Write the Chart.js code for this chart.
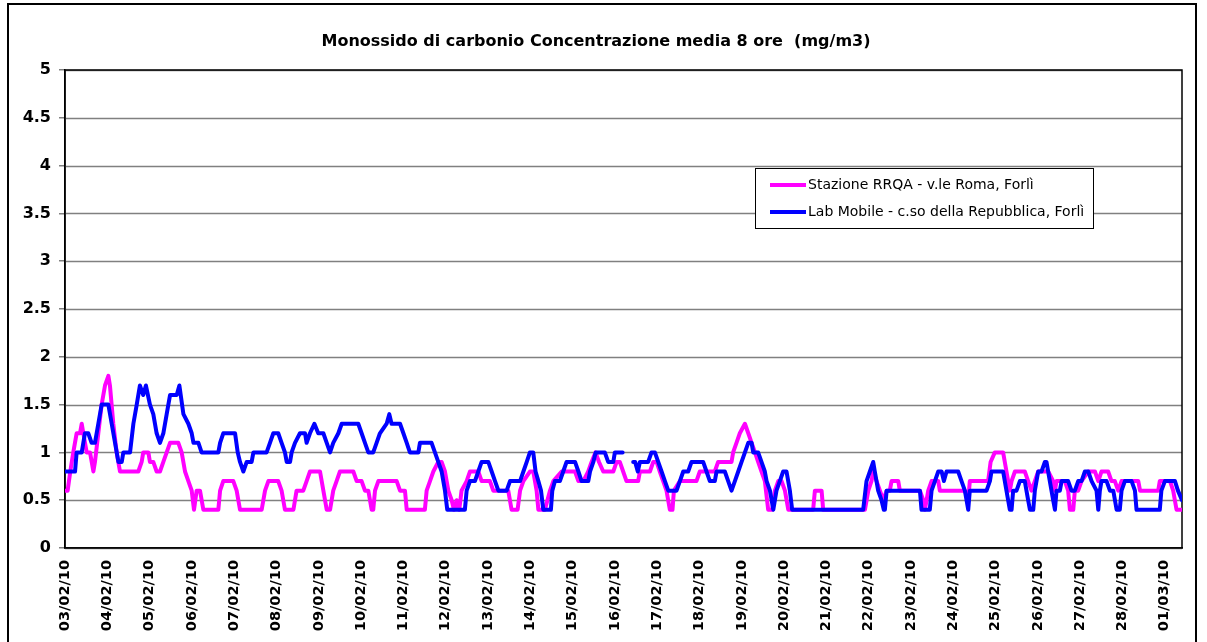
<!DOCTYPE html>
<html>
<head>
<meta charset="utf-8">
<title>Monossido di carbonio</title>
<script src="https://cdn.jsdelivr.net/npm/chart.js@4.4.0/dist/chart.umd.min.js"></script>
<style>
  html, body { margin: 0; padding: 0; background: #fff; }
  #wrap { position: relative; width: 1207px; height: 642px; overflow: hidden; }
  #frame { position: absolute; left: 7px; top: 3px; width: 1190px; height: 680px;
           border: 2px solid #000; box-sizing: border-box; pointer-events: none; }
</style>
</head>
<body>
<div id="wrap">
  <canvas id="line-co" width="1207" height="642"></canvas>
  <div id="frame"></div>
</div>
<script>
// tick labels, one per day (x axis is in hours from 03/02/10 00:00)
var dayLabels = ["03/02/10","04/02/10","05/02/10","06/02/10","07/02/10","08/02/10","09/02/10",
  "10/02/10","11/02/10","12/02/10","13/02/10","14/02/10","15/02/10","16/02/10","17/02/10",
  "18/02/10","19/02/10","20/02/10","21/02/10","22/02/10","23/02/10","24/02/10","25/02/10",
  "26/02/10","27/02/10","28/02/10","01/03/10"];
var yTicks = [0, 0.5, 1, 1.5, 2, 2.5, 3, 3.5, 4, 4.5, 5];

// Stazione RRQA - v.le Roma
var romaHours = [0,1.5,3,4.7,6.6,8.5,9.5,10.4,12.3,14.2,16.1,17,18.9,20.8,22.7,24.6,25.5,27.4,29.3,31.2,
  41.6,43.5,44.4,47.3,48.2,50.1,52,53.9,55.8,57.7,59.6,64.3,66.2,68.1,70,71.9,73.2,74.7,76.6,78.5,
  87,88,89.8,95.5,97.4,99.3,111.6,113.5,115.4,121,122.9,124.8,129.6,131.4,135.2,137.1,139,144.7,146.6,148.5,
  150.4,152.2,154.1,156,163.6,165.5,168.3,170.2,172.1,174,174.9,175.9,177.8,188.2,190.1,192.9,193.9,204.2,205.2,207.1,
  209,211.8,213.7,215.6,217.5,219.4,220.7,222.2,223.7,225,227.9,229.8,234.5,236.4,241.1,243,251.5,253.4,256.8,258.2,
  260.1,263.8,265.7,267.6,268.6,272.3,275.2,277.1,281.8,289.4,291.3,294.1,296.9,298.8,301,303,305.4,311.1,313,314.8,
  316.7,318.6,325.2,326.2,331.9,333.8,335.7,337.5,339.4,341.3,343.2,344.7,345.5,348.9,358.3,360.2,368.7,370.6,378.2,379.1,
  381,382.9,385.8,387.7,389.6,391.5,393.3,395.2,397.1,399,401.3,402.8,404.7,406.6,408.5,410.4,424.5,425.5,429.3,430.2,
  453.9,455.8,457.6,458.6,460.5,462.4,464.3,466.2,468,469,472.8,473.7,485.1,487,487.9,488.9,489.8,491.7,495.5,496.4,
  510.6,512.5,513.4,523.8,525.2,527.6,532.3,534.2,536.1,537.1,539,544.6,546.5,548.4,550.3,552.2,557.9,560.7,561.7,562.6,
  567.3,569.2,570.2,572.1,573,574.9,576.8,580.6,584.4,586.3,588.1,591.9,593.8,595.7,597.6,599.5,609,610,620.3,621.2,
  627,628.8,630.7,633.8];
var romaValues = [0.6,0.6,0.8,1.0,1.2,1.2,1.3,1.2,1.0,1.0,0.8,0.9,1.2,1.5,1.7,1.8,1.7,1.3,1.0,0.8,
  0.8,0.9,1.0,1.0,0.9,0.9,0.8,0.8,0.9,1.0,1.1,1.1,1.0,0.8,0.7,0.6,0.4,0.6,0.6,0.4,
  0.4,0.6,0.7,0.7,0.6,0.4,0.4,0.6,0.7,0.7,0.6,0.4,0.4,0.6,0.6,0.7,0.8,0.8,0.6,0.4,
  0.4,0.6,0.7,0.8,0.8,0.7,0.7,0.6,0.6,0.4,0.4,0.6,0.7,0.7,0.6,0.6,0.4,0.4,0.6,0.7,
  0.8,0.9,0.9,0.8,0.6,0.5,0.4,0.5,0.4,0.6,0.7,0.8,0.8,0.7,0.7,0.6,0.6,0.4,0.4,0.6,
  0.7,0.8,0.8,0.6,0.4,0.4,0.6,0.7,0.8,0.8,0.7,0.7,0.8,0.9,1.0,0.9,0.8,0.8,0.9,0.9,
  0.8,0.7,0.7,0.8,0.8,0.9,0.9,0.8,0.7,0.6,0.4,0.4,0.6,0.7,0.7,0.8,0.8,0.9,0.9,1.0,
  1.1,1.2,1.3,1.2,1.1,1.0,0.9,0.8,0.7,0.4,0.4,0.6,0.7,0.7,0.6,0.4,0.4,0.6,0.6,0.4,
  0.4,0.6,0.7,0.8,0.7,0.6,0.5,0.6,0.6,0.7,0.7,0.6,0.6,0.5,0.4,0.5,0.6,0.7,0.7,0.6,
  0.6,0.5,0.7,0.7,0.9,1.0,1.0,0.8,0.6,0.7,0.8,0.8,0.7,0.6,0.7,0.8,0.8,0.7,0.6,0.7,
  0.7,0.6,0.4,0.4,0.6,0.6,0.7,0.8,0.8,0.7,0.8,0.8,0.7,0.7,0.6,0.7,0.7,0.6,0.6,0.7,
  0.7,0.6,0.4,0.4];

// Lab Mobile - c.so della Repubblica (null = missing data)
var labHours = [0,5.7,6.6,9.5,11.3,13.2,15.1,17,18.9,20.8,24.6,26.5,28.4,30.3,32.2,33.1,36.9,38.8,40.7,42.5,
  44.4,45.9,48.2,50.1,52,53.9,55.8,57.7,59.6,63.4,64.9,67.2,70,71.9,72.9,75.7,77.5,87,88,89.8,
  96.5,98,99.3,101.2,103.1,105.9,106.9,114.4,116.3,118.2,121,122.9,124.8,125.8,127.7,128.6,130.5,133.3,136.2,137.1,
  139,141.5,143.7,146.6,148.5,150.4,152.2,155.1,157,166.4,168.3,170.2,172.1,174.9,176.8,178.7,182.5,184,185.3,190.1,
  192,193.9,195.7,200.5,201.4,208,209.9,211.8,213.7,215.6,216.9,226.9,227.9,229.8,232.6,234.5,236.4,240.2,242.1,244,
  245.9,250.6,252.5,258.2,260.1,262,263.8,265.7,267,268.6,270.1,271.4,275.7,276.5,278,280.8,282.7,284.6,289.4,291.3,
  293.1,296.9,297.9,299.8,301.1,306.3,308.2,311.1,312,316.4,319,322.4,323.5,325,326.2,330.9,332.8,334.7,336.6,338.5,
  340.4,342.3,347,348.9,350.8,353.6,355.5,362.1,364,365.9,368.7,369.7,374.4,376.3,378.2,380.1,382,383.9,385.8,387.7,
  389.6,390.5,393.3,395.2,397.1,398.1,400,401.9,402.8,403.7,405.6,407.5,409.4,411.3,412.6,452.9,454.8,456.7,458.6,459.5,
  461.4,463.3,464.6,465.2,466.2,485.1,486,490.7,491.7,493.6,495.5,497.4,498.7,500.2,506.8,508.7,510.6,512.5,513.4,522.9,
  524.8,525.7,532.3,534.2,536.1,537.1,538,539.9,541.8,544.6,546.5,547.5,549.4,550.3,552.2,554.1,556,556.9,558.8,560.7,
  561.7,562.6,564.5,565.5,569.2,571.1,573,574.9,576.8,578.7,580.6,582.5,585.3,586.3,587.2,588.1,591,592.9,594.8,596.7,
  598.5,599.5,601.4,605.2,607.1,608,621.2,622.1,624.1,629.8,631.5,633.8];
var labValues = [0.8,0.8,1.0,1.0,1.2,1.2,1.1,1.1,1.3,1.5,1.5,1.3,1.1,0.9,0.9,1.0,1.0,1.3,1.5,1.7,
  1.6,1.7,1.5,1.4,1.2,1.1,1.2,1.4,1.6,1.6,1.7,1.4,1.3,1.2,1.1,1.1,1.0,1.0,1.1,1.2,
  1.2,1.0,0.9,0.8,0.9,0.9,1.0,1.0,1.1,1.2,1.2,1.1,1.0,0.9,0.9,1.0,1.1,1.2,1.2,1.1,
  1.2,1.3,1.2,1.2,1.1,1.0,1.1,1.2,1.3,1.3,1.2,1.1,1.0,1.0,1.1,1.2,1.3,1.4,1.3,1.3,
  1.2,1.1,1.0,1.0,1.1,1.1,1.0,0.9,0.8,0.6,0.4,0.4,0.6,0.7,0.7,0.8,0.9,0.9,0.8,0.7,
  0.6,0.6,0.7,0.7,0.8,0.9,1.0,1.0,0.8,0.7,0.6,0.4,0.4,0.6,0.7,0.7,0.8,0.9,0.9,0.8,
  0.7,0.7,0.8,0.9,1.0,1.0,0.9,0.9,1.0,1.0,null,0.9,0.9,0.8,0.9,0.9,1.0,1.0,0.9,0.8,
  0.7,0.6,0.6,0.7,0.8,0.8,0.9,0.9,0.8,0.7,0.7,0.8,0.8,0.7,0.6,0.7,0.8,0.9,1.0,1.1,
  1.1,1.0,1.0,0.9,0.8,0.7,0.6,0.4,0.5,0.6,0.7,0.8,0.8,0.6,0.4,0.4,0.7,0.8,0.9,0.8,
  0.6,0.5,0.4,0.4,0.6,0.6,0.4,0.4,0.6,0.7,0.8,0.8,0.7,0.8,0.8,0.7,0.6,0.4,0.6,0.6,
  0.7,0.8,0.8,0.6,0.4,0.4,0.6,0.6,0.7,0.7,0.5,0.4,0.4,0.6,0.8,0.8,0.9,0.9,0.7,0.5,
  0.4,0.6,0.6,0.7,0.7,0.6,0.6,0.7,0.7,0.8,0.8,0.7,0.6,0.4,0.6,0.7,0.7,0.6,0.6,0.4,
  0.4,0.6,0.7,0.7,0.6,0.4,0.4,0.6,0.7,0.7,0.6,0.5];

var romaLabel = "Stazione RRQA - v.le Roma, Forlì";
var labLabel = "Lab Mobile - c.so della Repubblica, Forlì";
var titleText = "Monossido di carbonio Concentrazione media 8 ore  (mg/m3)";

function toPoints(hours, values) {
  var pts = [];
  for (var i = 0; i < hours.length; i++) {
    pts.push({ x: hours[i], y: values[i] });
  }
  return pts;
}

var FONT = "'DejaVu Sans', Verdana, sans-serif";

// gridlines, title, plot frame and the boxed legend are drawn by hand
var extras = {
  id: "extras",
  beforeDatasetsDraw: function(chart) {
    var c = chart.ctx, a = chart.chartArea, ys = chart.scales.y;
    c.save();
    c.strokeStyle = "#808080";
    c.lineWidth = 1.5;
    yTicks.forEach(function(v) {
      var py = Math.round(ys.getPixelForValue(v)) + 0.5;
      c.beginPath();
      c.moveTo(a.left, py);
      c.lineTo(a.right, py);
      c.stroke();
    });
    c.strokeStyle = "#000";
    c.strokeRect(a.left, a.top, a.right - a.left, a.bottom - a.top);
    c.restore();
  },
  afterDraw: function(chart) {
    var c = chart.ctx;
    c.save();
    c.fillStyle = "#000";
    c.font = "bold 16px " + FONT;
    c.textAlign = "center";
    c.textBaseline = "middle";
    c.fillText(titleText, 596, 42);

    // legend box
    c.fillStyle = "#fff";
    c.fillRect(755, 168, 338, 60);
    c.strokeStyle = "#000";
    c.lineWidth = 1;
    c.strokeRect(755.5, 168.5, 338, 60);
    var items = [
      { text: romaLabel, color: chart.data.datasets[1].borderColor, y: 185 },
      { text: labLabel, color: chart.data.datasets[0].borderColor, y: 212 }
    ];
    c.font = "14px " + FONT;
    c.textAlign = "left";
    items.forEach(function(it) {
      c.strokeStyle = it.color;
      c.lineWidth = 4;
      c.beginPath();
      c.moveTo(770, it.y);
      c.lineTo(806, it.y);
      c.stroke();
      c.fillStyle = "#000";
      c.fillText(it.text, 808, it.y);
    });
    c.restore();
  }
};

var ctx = document.getElementById("line-co");

var chart = new Chart(ctx, {
  type: "line",
  data: {
    datasets: [
      {
        label: labLabel,
        data: toPoints(labHours, labValues),
        borderColor: "#0000ff",
        borderWidth: 4,
        borderJoinStyle: "round",
        borderCapStyle: "round",
        pointRadius: 0,
        tension: 0,
        spanGaps: false,
        order: 0
      },
      {
        label: romaLabel,
        data: toPoints(romaHours, romaValues),
        borderColor: "#ff00ff",
        borderWidth: 4,
        borderJoinStyle: "round",
        borderCapStyle: "round",
        pointRadius: 0,
        tension: 0,
        order: 1
      }
    ]
  },
  options: {
    responsive: false,
    animation: false,
    layout: { padding: { left: 7, top: 70, right: 25, bottom: 0 } },
    plugins: {
      legend: { display: false },
      title: { display: false },
      tooltip: { enabled: false }
    },
    scales: {
      x: {
        type: "linear",
        min: 0,
        max: 633.8,
        afterBuildTicks: function(scale) {
          scale.ticks = [];
          for (var i = 0; i < dayLabels.length; i++) scale.ticks.push({ value: i * 24 });
        },
        afterFit: function(scale) { scale.height = 94; },
        grid: { display: false, drawTicks: false },
        border: { display: true, color: "#000", width: 1.5 },
        ticks: {
          autoSkip: false,
          maxRotation: 90,
          minRotation: 90,
          padding: 12,
          color: "#000",
          font: { family: FONT, size: 14.5, weight: "bold" },
          callback: function(value) { return dayLabels[Math.round(value / 24)]; }
        }
      },
      y: {
        min: 0,
        max: 5,
        afterBuildTicks: function(scale) {
          scale.ticks = yTicks.map(function(v) { return { value: v }; });
        },
        afterFit: function(scale) { scale.width = 58; },
        grid: { color: "#808080", lineWidth: 1.5, tickLength: 6, drawOnChartArea: false },
        border: { display: true, color: "#000", width: 1.5 },
        ticks: {
          padding: 8,
          color: "#000",
          font: { family: FONT, size: 16, weight: "bold" },
          callback: function(value) { return String(value); }
        }
      }
    }
  },
  plugins: [extras]
});
</script>
</body>
</html>
